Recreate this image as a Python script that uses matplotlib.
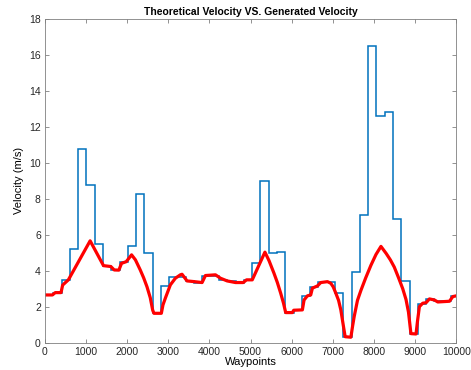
import numpy as np
import matplotlib
matplotlib.use('Agg')
import matplotlib.pyplot as plt

# theoretical velocity: one value per waypoint segment (stairs)
seg_edges = [0, 201.5, 403, 604.5, 806, 1007.5, 1209, 1410.5, 1612, 1813.5,
             2015, 2216.5, 2418, 2619.5, 2821, 3022.5, 3224, 3425.5, 3627, 3828.5,
             4030, 4231.5, 4433, 4634.5, 4836, 5037.5, 5239, 5440.5, 5642, 5843.5,
             6045, 6246.5, 6448, 6649.5, 6851, 7052.5, 7254, 7455.5, 7657, 7858.5,
             8060, 8261.5, 8463, 8664.5, 8866, 9067.5, 9269, 9470.5, 9672, 9873.5,
             10075]
theo_vel = [2.65, 2.78, 3.47, 5.19, 10.78, 8.79, 5.50, 4.27, 4.04, 4.50,
            5.38, 8.25, 5.00, 1.63, 3.15, 3.66, 3.66, 3.43, 3.34, 3.73,
            3.73, 3.50, 3.43, 3.34, 3.49, 4.45, 8.99, 4.97, 5.06, 1.67,
            1.82, 2.60, 3.08, 3.37, 3.37, 2.78, 0.30, 3.90, 7.12, 16.50,
            12.60, 12.80, 6.85, 3.40, 0.48, 2.15, 2.43, 2.30, 2.30, 2.60]

# generated velocity
gen_x = [0, 180, 250, 390, 430, 569, 1098, 1423, 1602, 1683, 1797, 1862, 1976,
         2106, 2200, 2317, 2400, 2480, 2560, 2620, 2650, 2830, 2870, 2927, 3049,
         3171, 3293, 3333, 3400, 3455, 3634, 3821, 3902, 4146, 4268, 4431, 4634,
         4821, 4902, 5041, 5349, 5450, 5569, 5650, 5732, 5800, 5854, 6016, 6050,
         6260, 6301, 6382, 6463, 6504, 6626, 6707, 6870, 6951, 7010, 7073, 7140,
         7195, 7260, 7300, 7439, 7460, 7480, 7520, 7600, 7683, 7800, 7927, 8050,
         8171, 8300, 8400, 8495, 8600, 8700, 8780, 8840, 8875, 8900, 9024, 9060,
         9106, 9187, 9268, 9350, 9472, 9553, 9837, 9919, 10000]
gen_vel = [2.65, 2.65, 2.78, 2.78, 3.2, 3.49, 5.66, 4.28, 4.23, 4.04, 4.03, 4.41, 4.5,
           4.88, 4.6, 4.04, 3.6, 3.11, 2.5, 1.8, 1.63, 1.63, 2.1, 2.47, 3.21,
           3.58, 3.77, 3.8, 3.6, 3.43, 3.39, 3.34, 3.73, 3.77, 3.58, 3.43, 3.34,
           3.34, 3.49, 3.49, 5.03, 4.55, 3.86, 3.35, 2.75, 2.2, 1.67, 1.67, 1.8,
           1.82, 2.37, 2.6, 2.65, 3.03, 3.15, 3.34, 3.39, 3.3, 3.1, 2.75, 2.35,
           1.82, 0.89, 0.33, 0.3, 0.6, 0.9, 1.45, 2.35, 2.9, 3.6, 4.3, 4.9,
           5.35, 4.95, 4.6, 4.2, 3.6, 3.0, 2.4, 1.7, 1.0, 0.5, 0.48, 1.2,
           2.0, 2.19, 2.22, 2.43, 2.37, 2.26, 2.3, 2.56, 2.6]

plt.rcParams['font.family'] = ['Liberation Sans', 'DejaVu Sans']

fig = plt.figure(figsize=(4.71, 3.70), dpi=100)
ax = fig.add_axes([0.0955, 0.074, 0.873, 0.875])

ax.stairs(theo_vel, seg_edges, color='#0072BD', lw=1.1, baseline=None)
ax.plot(gen_x, gen_vel, color='#FF0000', lw=2.3, solid_joinstyle='round')

ax.set_xlim(0, 10000)
ax.set_ylim(0, 18)
ax.set_xticks(np.arange(0, 10001, 1000))
ax.set_yticks(np.arange(0, 19, 2))
ax.tick_params(direction='in', top=True, right=True, length=3, width=0.6,
               colors='#808080', labelcolor='#262626', labelsize=7.5, pad=3)
for s in ax.spines.values():
    s.set_color('#808080')
    s.set_linewidth(0.6)

ax.set_title('Theoretical Velocity VS. Generated Velocity', fontsize=7.5,
             fontweight='bold', pad=3)
ax.set_xlabel('Waypoints', fontsize=8, labelpad=0)
ax.set_ylabel('Velocity (m/s)', fontsize=8, labelpad=4)

fig.savefig('out.png', dpi=100)
